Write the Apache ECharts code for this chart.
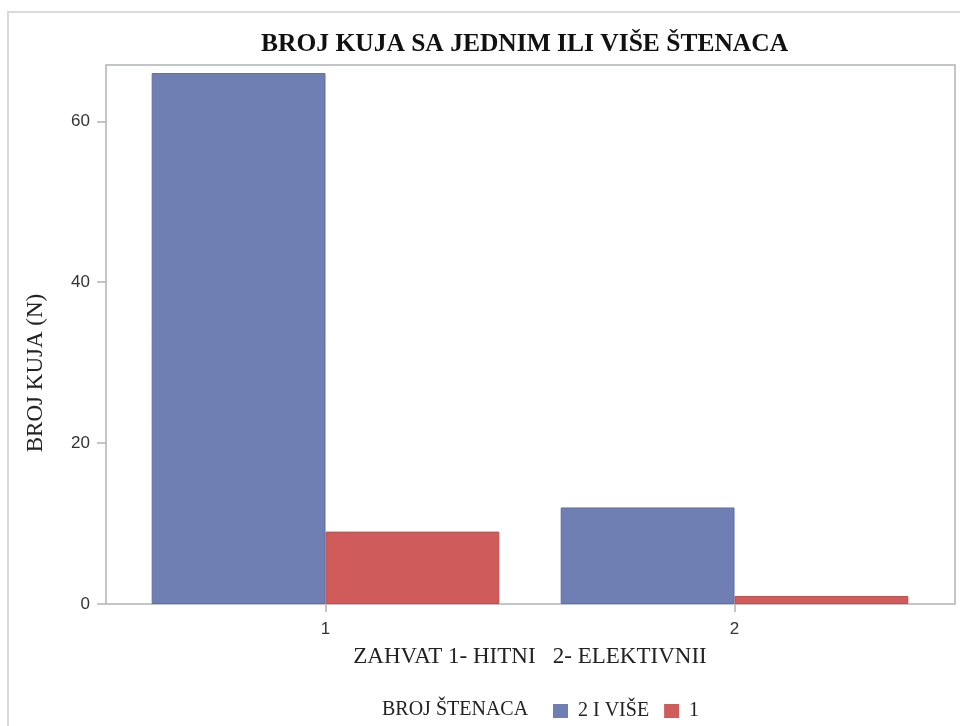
<!DOCTYPE html>
<html>
<head>
<meta charset="utf-8">
<title>BROJ KUJA SA JEDNIM ILI VIŠE ŠTENACA</title>
<script src="https://cdn.jsdelivr.net/npm/echarts@6/dist/echarts.min.js"></script>
<style>
  html, body { margin: 0; padding: 0; background: #fff; }
  #chart { width: 960px; height: 726px; }
</style>
</head>
<body>
<div id="chart"></div>
<script>
// data
const categories = ['1', '2']
const seriesNames = ['2 I VIŠE', '1']
const moreThanOne = [66, 12]
const onlyOne = [9, 1]
const yTicks = [0, 20, 40, 60]
const yMax = 67

const blue = '#6f7eb3'
const red = '#d05b5b'
const frameColor = '#aeb4b9'
const serif = 'Liberation Serif'
const sans = 'Liberation Sans'

const chart = echarts.init(document.getElementById('chart'))

const option = {
  backgroundColor: '#fff',
  animation: false,
  title: {
    text: 'BROJ KUJA SA JEDNIM ILI VIŠE ŠTENACA',
    left: 261,
    top: 31,
    padding: 0,
    textStyle: { fontFamily: serif, fontWeight: 'bold', fontSize: 25.5, color: '#111' }
  },
  legend: {
    data: seriesNames,
    left: 553,
    top: 701,
    padding: 0,
    itemWidth: 15,
    itemHeight: 14,
    itemGap: 15,
    icon: 'rect',
    itemStyle: { borderWidth: 0 },
    textStyle: { fontFamily: serif, fontSize: 20, color: '#222', padding: [0, 0, 0, 5] }
  },
  // grid 0 = frame + y ticks, grid 1 = the bars (inset like the original)
  grid: [
    { left: 106, right: 5, top: 65, bottom: 122, show: true, borderColor: frameColor, borderWidth: 1.5, outerBoundsMode: 'none' },
    { left: 121, right: 21, top: 65, bottom: 122, outerBoundsMode: 'none' }
  ],
  xAxis: [
    { type: 'value', gridIndex: 0, show: false, min: 0, max: 1 },
    {
      type: 'category',
      gridIndex: 1,
      data: categories,
      name: 'ZAHVAT 1- HITNI   2- ELEKTIVNII',
      nameLocation: 'middle',
      nameGap: 41,
      nameTextStyle: { fontFamily: serif, fontSize: 23, color: '#222' },
      axisLine: { show: false },
      axisTick: { show: true, alignWithLabel: true, length: 8, lineStyle: { color: frameColor, width: 1.5 } },
      axisLabel: { margin: 17, fontFamily: sans, fontSize: 17, color: '#333' }
    }
  ],
  yAxis: [
    {
      type: 'value',
      gridIndex: 0,
      min: 0,
      max: yMax,
      axisLine: { show: false },
      splitLine: { show: false },
      axisTick: { show: true, length: 9, customValues: yTicks, lineStyle: { color: frameColor, width: 1.5 } },
      axisLabel: { margin: 16, customValues: yTicks, fontFamily: sans, fontSize: 17, color: '#333' }
    },
    { type: 'value', gridIndex: 1, min: 0, max: yMax, show: false, splitLine: { show: false } }
  ],
  graphic: [
    // outer light frame
    {
      type: 'rect',
      shape: { x: 8, y: 12, width: 980, height: 740 },
      style: { fill: 'none', stroke: '#dadada', lineWidth: 2 },
      z: -1
    },
    {
      type: 'text',
      x: 36,
      y: 373,
      rotation: Math.PI / 2,
      style: { text: 'BROJ KUJA (N)', font: '23px "Liberation Serif"', fill: '#222', align: 'center', verticalAlign: 'middle' }
    },
    {
      type: 'text',
      x: 382,
      y: 710,
      style: { text: 'BROJ ŠTENACA', font: '20px "Liberation Serif"', fill: '#222', align: 'left', verticalAlign: 'middle' }
    }
  ],
  series: [
    {
      name: seriesNames[0],
      type: 'bar',
      xAxisIndex: 1,
      yAxisIndex: 1,
      data: moreThanOne,
      barGap: '0%',
      barCategoryGap: '15%',
      itemStyle: { color: blue, borderColor: '#5f6fa6', borderWidth: 1 }
    },
    {
      name: seriesNames[1],
      type: 'bar',
      xAxisIndex: 1,
      yAxisIndex: 1,
      data: onlyOne,
      barGap: '0%',
      barCategoryGap: '15%',
      itemStyle: { color: red, borderColor: '#c04e4e', borderWidth: 1 }
    }
  ]
}

chart.setOption(option)
</script>
</body>
</html>
